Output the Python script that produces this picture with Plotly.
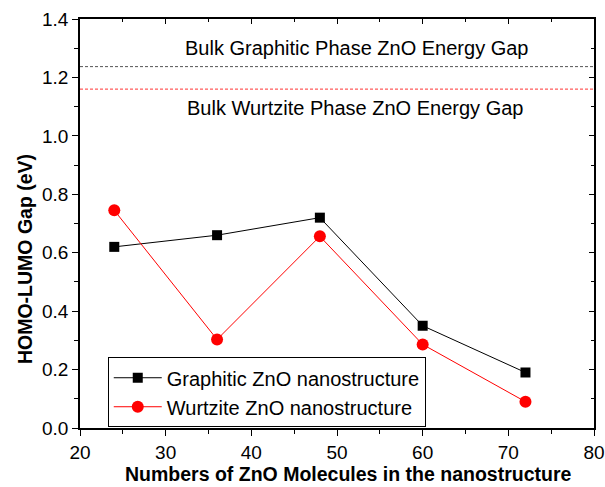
import plotly.graph_objects as go

molecules = [24, 36, 48, 60, 72]
graphitic_gap = [0.62, 0.66, 0.72, 0.35, 0.19]
wurtzite_gap = [0.745, 0.303, 0.656, 0.286, 0.09]
bulk_names = ["Bulk Graphitic Phase ZnO Energy Gap", "Bulk Wurtzite Phase ZnO Energy Gap"]
bulk_gaps = [1.237, 1.16]
bulk_colors = ["#555555", "#ff3333"]
x_range = [20, 80]
y_range = [0, 1.4]

FONT = "Liberation Sans, Arial, sans-serif"
FS = 20
TFS = 19

fig = go.Figure()

for v, c in zip(bulk_gaps, bulk_colors):
    fig.add_trace(go.Scatter(x=x_range, y=[v, v], mode="lines",
                             line=dict(color=c, width=1, dash="3px,2px"),
                             showlegend=False, hoverinfo="skip"))

fig.add_trace(go.Scatter(x=molecules, y=graphitic_gap, mode="lines+markers",
                         name="Graphitic ZnO nanostructure",
                         line=dict(color="black", width=1),
                         marker=dict(symbol="square", size=10, color="black")))
fig.add_trace(go.Scatter(x=molecules, y=wurtzite_gap, mode="lines+markers",
                         name="Wurtzite ZnO nanostructure",
                         line=dict(color="#ff0000", width=1),
                         marker=dict(symbol="circle", size=12, color="#ff0000")))

# dummy trace for mirrored top/right axes with inward ticks
fig.add_trace(go.Scatter(x=[None], y=[None], xaxis="x2", yaxis="y2",
                         showlegend=False, hoverinfo="skip"))

fig.add_annotation(text=bulk_names[0], x=52.3, y=bulk_gaps[0] + 0.065, xref="x", yref="y",
                   xanchor="center", yanchor="middle",
                   showarrow=False, font=dict(size=FS, color="black", family=FONT))
fig.add_annotation(text=bulk_names[1], x=52.1, y=bulk_gaps[1] - 0.065, xref="x", yref="y",
                   xanchor="center", yanchor="middle",
                   showarrow=False, font=dict(size=FS, color="black", family=FONT))

fig.add_annotation(text="<b>HOMO-LUMO Gap (eV)</b>", x=-0.107, y=0.413, xref="paper", yref="paper",
                   xanchor="center", yanchor="middle",
                   textangle=-90, showarrow=False, font=dict(size=19.5, color="black", family=FONT))
fig.add_annotation(text="<b>Numbers of ZnO Molecules in the nanostructure</b>", x=0.522, y=-0.113,
                   xref="paper", yref="paper", xanchor="center", yanchor="middle",
                   showarrow=False, font=dict(size=19.5, color="black", family=FONT))

axis_common = dict(showgrid=False, zeroline=False, showline=True, linecolor="black",
                   linewidth=1.5, tickcolor="black", tickwidth=1.2, ticklabeloverflow="allow",
                   automargin=False,
                   tickfont=dict(size=TFS, color="black", family=FONT))

fig.update_layout(
    width=605, height=487,
    margin=dict(l=80, r=11, t=19, b=59, autoexpand=False),
    plot_bgcolor="white", paper_bgcolor="white",
    font=dict(family=FONT, color="black"),
    xaxis=dict(range=x_range, dtick=10, ticks="outside", ticklen=6,
               minor=dict(dtick=5, ticks="outside", ticklen=4, tickcolor="black"),
               **axis_common),
    yaxis=dict(range=y_range, dtick=0.2, tickformat=".1f", ticks="outside", ticklen=6,
               minor=dict(dtick=0.1, ticks="outside", ticklen=4, tickcolor="black"),
               **axis_common),
    xaxis2=dict(range=x_range, overlaying="x", side="top", anchor="y2", dtick=10,
                ticks="inside", ticklen=5, showticklabels=False,
                minor=dict(dtick=5, ticks="inside", ticklen=3, tickcolor="black"),
                **axis_common),
    yaxis2=dict(range=y_range, overlaying="y", side="right", anchor="x2", dtick=0.2,
                ticks="inside", ticklen=5, showticklabels=False,
                minor=dict(dtick=0.1, ticks="inside", ticklen=3, tickcolor="black"),
                **axis_common),
    legend=dict(x=0.054, y=0.173, xanchor="left", yanchor="top",
                bgcolor="white", bordercolor="black", borderwidth=1,
                font=dict(size=FS, color="black", family=FONT),
                itemwidth=48, tracegroupgap=0),
    showlegend=True,
)

fig.write_html("out.html", config={"displayModeBar": False},
               post_script="document.body.style.margin='0';")
